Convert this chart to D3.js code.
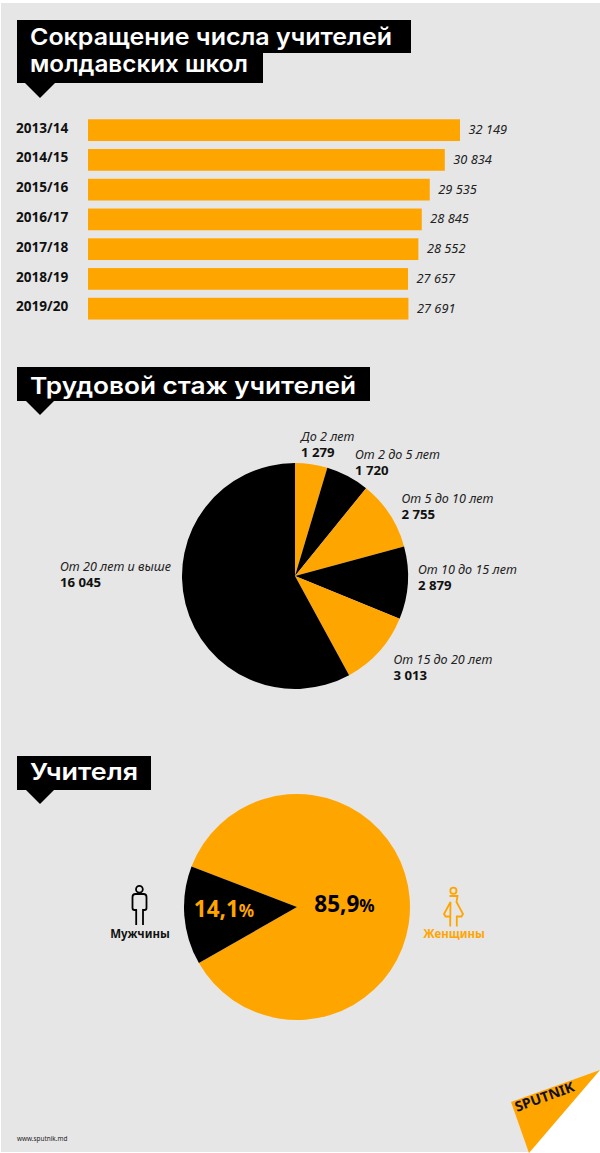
<!DOCTYPE html>
<html><head><meta charset="utf-8">
<script src="https://cdnjs.cloudflare.com/ajax/libs/d3/7.8.5/d3.min.js"></script>
<style>html,body{margin:0;padding:0;background:#fff}svg{display:block}
text{font-family:"Noto Sans",sans-serif}
.head{font-family:"Inter","Noto Sans",sans-serif;font-weight:600;fill:#fff;font-size:23.5px}
.yr{font-weight:700;font-size:13.6px;fill:#111}
.val{font-style:italic;font-size:12.8px;fill:#222}
.lab{font-style:italic;font-size:12.6px;fill:#222}
.num{font-weight:700;font-size:13.2px;fill:#111;font-style:normal}
</style></head><body>
<svg id="c" width="600" height="1153"></svg>
<script>
const years=["2013/14","2014/15","2015/16","2016/17","2017/18","2018/19","2019/20"];
const teachers=[32149,30834,29535,28845,28552,27657,27691];
const tenure=["До 2 лет","От 2 до 5 лет","От 5 до 10 лет","От 10 до 15 лет","От 15 до 20 лет","От 20 лет и выше"];
const tenureValues=[1279,1720,2755,2879,3013,16045];
const genders=["Женщины","Мужчины"];
const genderShares=[85.9,14.1];
const orange="#ffa500",black="#000";
const fmt=v=>String(v).replace(/\B(?=(\d{3})+$)/g," ");
const svg=d3.select("#c");

// background with the cut corner
svg.append("path").attr("d","M1 3H600V1070L529 1152H1Z").attr("fill","#e6e6e6");

function heading(lines,tipX,tipY){
  const g=svg.append("g");
  lines.forEach(l=>{
    g.append("rect").attr("x",l.x).attr("y",l.y).attr("width",l.w).attr("height",l.h).attr("fill",black);
    g.append("text").attr("class","head").attr("x",l.x+13).attr("y",l.base).text(l.t)
      .attr("textLength",l.tl).attr("lengthAdjust","spacingAndGlyphs");
  });
  g.append("path").attr("d",`M${tipX-15} ${tipY-15}L${tipX} ${tipY}L${tipX+15} ${tipY-15}Z`).attr("fill",black);
}
heading([
 {t:"Сокращение числа учителей",x:17,y:20,w:394,h:33,base:45,tl:362},
 {t:"молдавских школ",x:17,y:50,w:246,h:33,base:72,tl:218}],40,98);
heading([{t:"Трудовой стаж учителей",x:17,y:367,w:353,h:34,base:394,tl:326}],40,415);
heading([{t:"Учителя",x:17,y:756,w:134,h:34,base:780,tl:108}],40,804);

// bars
const x=d3.scaleLinear().domain([0,32149]).range([88,460]);
const y=d3.scaleBand().domain(years).range([115.4,323.4]).paddingInner(.27).paddingOuter(.13);
const bars=svg.append("g");
bars.selectAll("rect").data(years).join("rect")
  .attr("x",x(0)).attr("y",d=>y(d)).attr("height",y.bandwidth())
  .attr("width",(d,i)=>x(teachers[i])-x(0)).attr("fill",orange);
bars.selectAll(".yr").data(years).join("text").attr("class","yr")
  .attr("x",16).attr("y",d=>y(d)+y.bandwidth()/2+2.6).text(d=>d);
bars.selectAll(".val").data(years).join("text").attr("class","val")
  .attr("x",(d,i)=>x(teachers[i])+8.5).attr("y",d=>y(d)+y.bandwidth()/2+4)
  .text((d,i)=>fmt(teachers[i]));

// tenure pie
const arc=d3.arc().innerRadius(0).outerRadius(113);
const pie1=d3.pie().sort(null)(tenureValues);
const g1=svg.append("g").attr("transform","translate(295,576)");
g1.selectAll("path").data(pie1).join("path").attr("d",arc)
  .attr("fill",(d,i)=>i%2?black:orange);
const labelAt=[[301,441],[355,459],[401.5,503],[418,573.5],[393.5,664],[60,571]];
const numGap=16;
tenure.forEach((t,i)=>{
  const [lx,ly]=labelAt[i];
  const tx=svg.append("text").attr("class","lab").attr("x",lx).attr("y",ly);
  tx.append("tspan").text(t);
  tx.append("tspan").attr("class","num").attr("x",lx).attr("dy",numGap).text(fmt(tenureValues[i]));
});

// gender pie
const startA=-69*Math.PI/180;
const pie2=d3.pie().sort(null).startAngle(startA).endAngle(startA+2*Math.PI)(genderShares);
const g2=svg.append("g").attr("transform","translate(297,907)");
g2.selectAll("path").data(pie2).join("path").attr("d",arc).attr("fill",(d,i)=>i?black:orange);
function pct(v,px,py,col){
  const t=svg.append("text").attr("x",px).attr("y",py).attr("text-anchor","middle").attr("font-size",22.5).attr("font-weight",700).attr("fill",col);
  t.append("tspan").text(String(v).replace(".",","));
  t.append("tspan").attr("font-size",17).text("%");
}
pct(genderShares[0],344.5,912,black);
pct(genderShares[1],224,917,orange);
svg.append("text").attr("x",140).attr("y",938).attr("text-anchor","middle").attr("font-size",11.5).attr("font-weight",700).attr("fill","#111").text(genders[1]);
svg.append("text").attr("x",454).attr("y",938).attr("text-anchor","middle").attr("font-size",11.5).attr("font-weight",700).attr("fill",orange).text(genders[0]);

// icons
const man=svg.append("g").attr("fill","none").attr("stroke",black).attr("stroke-width",1.8);
man.append("circle").attr("cx",139.4).attr("cy",889.2).attr("r",3.4);
man.append("path").attr("d","M136.2 925V910H134.5Q132.5 910 132.5 908V897Q132.5 894 135.5 894H143.5Q146.5 894 146.5 897V908Q146.5 910 144.5 910H143V925");
const wom=svg.append("g").attr("fill","none").attr("stroke",orange).attr("stroke-width",1.8);
wom.append("circle").attr("cx",453.4).attr("cy",890.7).attr("r",3.1);
wom.append("path").attr("d","M449.5 896H457.5L456.5 902L463 914L461.5 916.5H456.8V926.5M450.2 926.5V916.5H445.5L444 914L450.5 902Z");

// logo & credit
svg.append("path").attr("d","M600 1070L511 1102L529 1153Z").attr("fill",orange);
svg.append("text").attr("transform","translate(517,1112) rotate(-20)").attr("font-family","DejaVu Sans").attr("font-weight",700)
  .attr("font-size",14).attr("fill","#111").attr("textLength",62).attr("lengthAdjust","spacingAndGlyphs").text("SPUTNIK");
svg.append("text").attr("x",17).attr("y",1141).attr("font-size",6.4).attr("fill","#222").text("www.sputnik.md");
</script></body></html>
